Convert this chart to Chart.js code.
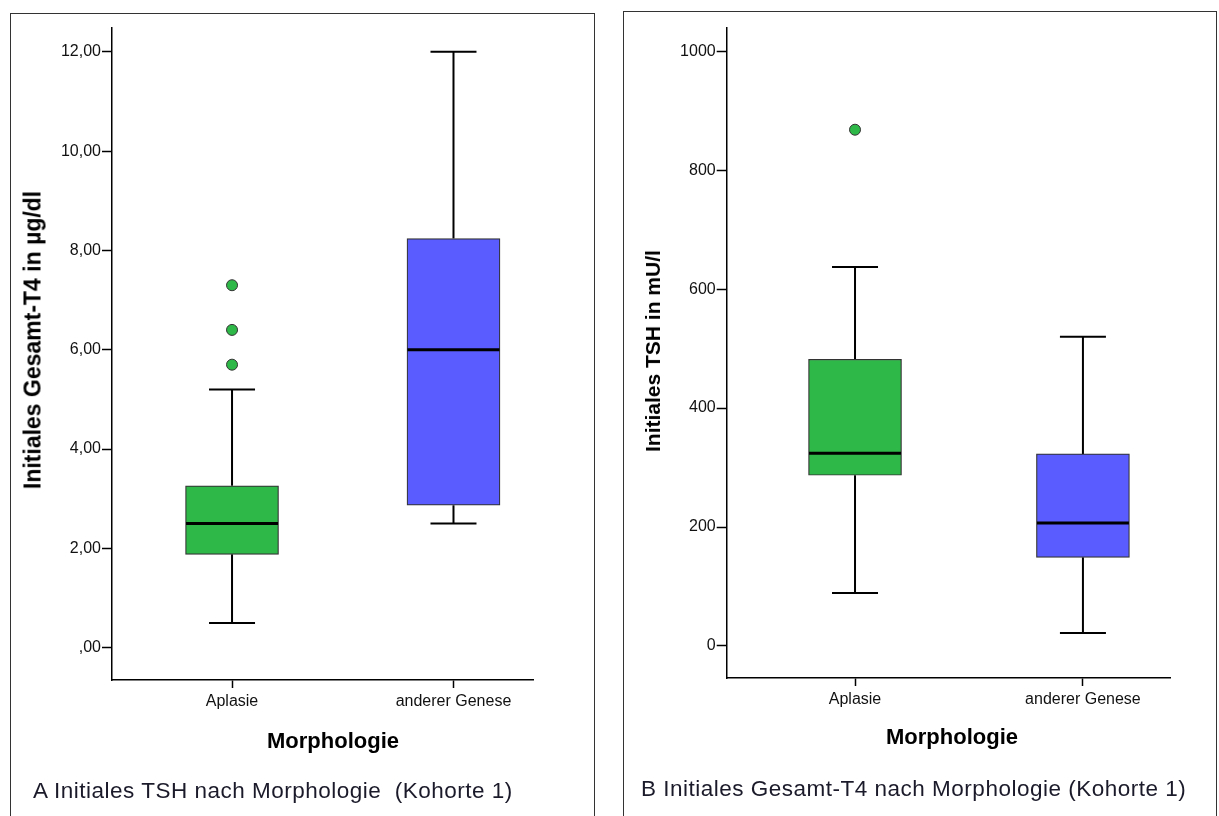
<!DOCTYPE html>
<html>
<head>
<title>Morphologie Boxplots</title>
<script src="https://cdn.jsdelivr.net/npm/chart.js"></script>
<style>
body { margin: 0; background: #fff; font-family: "Liberation Sans", Arial, sans-serif; }
.panel { position: absolute; border: 1.5px solid #333; border-bottom: none; box-sizing: border-box; }
.wrap { position: absolute; }
.ytitle { position: absolute; font-weight: bold; color: #000; white-space: nowrap;
  transform: translate(-50%, -50%) rotate(-90deg); }
.xtitle { position: absolute; font-weight: bold; font-size: 22px; color: #000; white-space: nowrap;
  transform: translate(-50%, -50%); }
.caption { position: absolute; font-size: 22.5px; letter-spacing: 0.5px; color: #1a1a2a; white-space: nowrap; transform: translateY(-50%); }
</style>
</head>
<body>
<div class="panel" style="left:10px;top:13px;width:585px;height:803px;"></div>
<div class="panel" style="left:623px;top:11px;width:594px;height:805px;"></div>

<div class="wrap" style="left:12px;top:0px;width:580px;height:816px;"><canvas id="chartA"></canvas></div>
<div class="wrap" style="left:626px;top:0px;width:588px;height:816px;"><canvas id="chartB"></canvas></div>

<div class="ytitle" style="left:33px;top:340px;font-size:23px;">Initiales Gesamt-T4 in µg/dl</div>
<div class="xtitle" style="left:333px;top:741px;">Morphologie</div>
<div class="caption" style="left:33px;top:791px;">A Initiales TSH nach Morphologie&nbsp; (Kohorte 1)</div>

<div class="ytitle" style="left:653px;top:351px;font-size:21px;">Initiales TSH in mU/l</div>
<div class="xtitle" style="left:952px;top:737px;">Morphologie</div>
<div class="caption" style="left:641px;top:789px;">B Initiales Gesamt-T4 nach Morphologie (Kohorte 1)</div>

<script>
// categories
const categories = ['Aplasie', 'anderer Genese'];

// Panel A: Initiales Gesamt-T4 (µg/dl)
const t4Min    = [0.5, 2.5];
const t4Q1     = [1.88, 2.87];
const t4Median = [2.5, 6.0];
const t4Q3     = [3.26, 8.24];
const t4Max    = [5.2, 12.0];
const t4Outliers = [[5.7, 6.4, 7.3], []];
const t4Ticks  = [0, 2, 4, 6, 8, 10, 12];

// Panel B: Initiales TSH (mU/l)
const tshMin    = [89, 22];
const tshQ1     = [287, 149];
const tshMedian = [324, 207];
const tshQ3     = [482, 323];
const tshMax    = [637, 520];
const tshOutliers = [[868], []];
const tshTicks  = [0, 200, 400, 600, 800, 1000];

const colors = ['#2EB848', '#5A5CFF'];

// whiskers and median lines, drawn through the chart scales
const boxplotLines = {
  id: 'boxplotLines',
  beforeDatasetsDraw(chart, args, opts) {
    const ctx = chart.ctx, xs = chart.scales.x, ys = chart.scales.y;
    ctx.save();
    ctx.strokeStyle = '#000';
    ctx.lineWidth = 2;
    opts.min.forEach((lo, i) => {
      const x = xs.getPixelForValue(i + 1);
      const capHalf = 23;
      [[lo, opts.q1[i]], [opts.max[i], opts.q3[i]]].forEach(([end, edge]) => {
        const yEnd = ys.getPixelForValue(end);
        ctx.beginPath();
        ctx.moveTo(x, yEnd);
        ctx.lineTo(x, ys.getPixelForValue(edge));
        ctx.moveTo(x - capHalf, yEnd);
        ctx.lineTo(x + capHalf, yEnd);
        ctx.stroke();
      });
    });
    ctx.restore();
  },
  afterDatasetsDraw(chart, args, opts) {
    const ctx = chart.ctx, xs = chart.scales.x, ys = chart.scales.y;
    ctx.save();
    ctx.strokeStyle = '#000';
    ctx.lineWidth = 3;
    opts.median.forEach((m, i) => {
      const x = xs.getPixelForValue(i + 1);
      const y = ys.getPixelForValue(m);
      ctx.beginPath();
      ctx.moveTo(x - 46, y);
      ctx.lineTo(x + 46, y);
      ctx.stroke();
    });
    ctx.restore();
  }
};

function makeChart(id, d) {
  const boxes = categories.map((c, i) => ({ x: i + 1, y: [d.q1[i], d.q3[i]] }));
  const outliers = [];
  d.outliers.forEach((list, i) => list.forEach(v => outliers.push({ x: i + 1, y: v })));

  return new Chart(document.getElementById(id), {
    type: 'bar',
    data: {
      datasets: [
        {
          type: 'scatter',
          data: outliers,
          backgroundColor: colors[0],
          borderColor: '#333',
          borderWidth: 1,
          pointRadius: 5.5,
          order: 0
        },
        {
          data: boxes,
          backgroundColor: colors,
          borderColor: '#333',
          borderWidth: 1.2,
          borderSkipped: false,
          barThickness: 93,
          grouped: false,
          order: 1
        }
      ]
    },
    options: {
      responsive: true,
      maintainAspectRatio: false,
      animation: false,
      layout: { padding: d.padding },
      plugins: {
        legend: { display: false },
        tooltip: { enabled: false },
        boxplotLines: { min: d.min, q1: d.q1, median: d.median, q3: d.q3, max: d.max }
      },
      scales: {
        x: {
          type: 'linear',
          min: d.xMin,
          max: d.xMax,
          offset: false,
          afterBuildTicks: s => { s.ticks = categories.map((c, i) => ({ value: i + 1 })); },
          afterFit: s => { s.height = 30; },
          grid: { offset: false, drawOnChartArea: false, tickLength: 8, tickColor: '#000', tickWidth: 1.5 },
          border: { color: '#000', width: 1.5 },
          ticks: {
            callback: v => categories[v - 1],
            color: '#111',
            font: { family: 'Liberation Sans', size: 16 },
            padding: 4,
            maxRotation: 0,
            autoSkip: false
          }
        },
        y: {
          min: d.yMin,
          max: d.yMax,
          afterBuildTicks: s => { s.ticks = d.ticks.map(v => ({ value: v })); },
          afterFit: s => { s.width = d.yWidth; },
          grid: { drawOnChartArea: false, tickLength: 10, tickColor: '#000', tickWidth: 1.5 },
          border: { color: '#000', width: 1.5 },
          ticks: {
            callback: d.fmt,
            color: '#111',
            font: { family: 'Liberation Sans', size: 16 },
            padding: 1
          }
        }
      }
    },
    plugins: [boxplotLines]
  });
}

// Panel A (left)
makeChart('chartA', {
  min: t4Min, q1: t4Q1, median: t4Median, q3: t4Q3, max: t4Max, outliers: t4Outliers, ticks: t4Ticks,
  yMin: -0.65, yMax: 12.48, xMin: 0.458, xMax: 2.359,
  yWidth: 100, padding: { left: 0, top: 28, right: 59, bottom: 106 },
  fmt: v => (v === 0 ? ',00' : v.toFixed(2).replace('.', ','))
});

// Panel B (right)
makeChart('chartB', {
  min: tshMin, q1: tshQ1, median: tshMedian, q3: tshQ3, max: tshMax, outliers: tshOutliers, ticks: tshTicks,
  yMin: -53.8, yMax: 1039, xMin: 0.437, xMax: 2.382,
  yWidth: 100.7, padding: { left: 0, top: 28, right: 44, bottom: 108 },
  fmt: v => String(v)
});
</script>
</body>
</html>
